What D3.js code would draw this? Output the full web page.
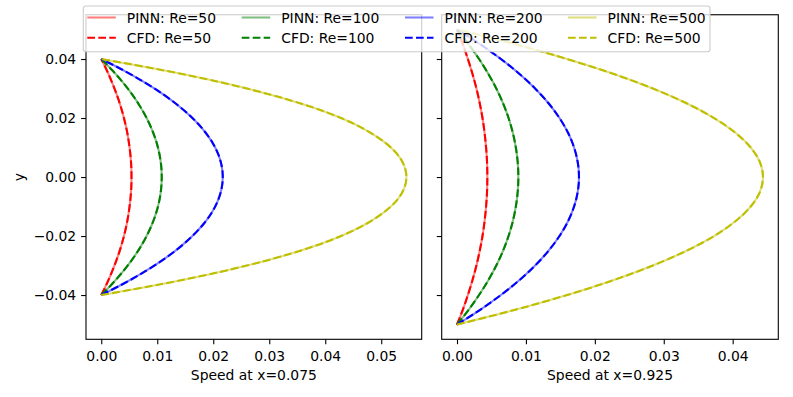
<!DOCTYPE html>
<html>
<head>
<meta charset="utf-8">
<script src="https://cdn.jsdelivr.net/npm/d3@7"></script>
<style>
	body { margin: 0; background: #fff; }
	text { font-family: "DejaVu Sans", sans-serif; }
</style>
</head>
<body>
<div id="dataviz-container"></div>
<script>
// channel height coordinates (same sampling for every profile)
var yLeft = [-0.04, -0.036, -0.032, -0.028, -0.024, -0.02, -0.016, -0.012, -0.008, -0.004, 0,
	0.004, 0.008, 0.012, 0.016, 0.02, 0.024, 0.028, 0.032, 0.036, 0.04];
var yRight = [-0.05, -0.045, -0.04, -0.035, -0.03, -0.025, -0.02, -0.015, -0.01, -0.005, 0,
	0.005, 0.01, 0.015, 0.02, 0.025, 0.03, 0.035, 0.04, 0.045, 0.05];

var reynolds = [50, 100, 200, 500];
var colors = ["#ff0000", "#008000", "#0000ff", "#bfbf00"];

// speed profiles at x=0.075
var left50 = [0, 0.00103, 0.00194, 0.00275, 0.00346, 0.00405, 0.00454, 0.00491, 0.00518, 0.00535, 0.0054,
	0.00535, 0.00518, 0.00491, 0.00454, 0.00405, 0.00346, 0.00275, 0.00194, 0.00103, 0];
var left100 = [0, 0.00205, 0.00389, 0.00551, 0.00691, 0.0081, 0.00907, 0.00983, 0.01037, 0.01069, 0.0108,
	0.01069, 0.01037, 0.00983, 0.00907, 0.0081, 0.00691, 0.00551, 0.00389, 0.00205, 0];
var left200 = [0, 0.00412, 0.00781, 0.01107, 0.01389, 0.01628, 0.01823, 0.01975, 0.02083, 0.02148, 0.0217,
	0.02148, 0.02083, 0.01975, 0.01823, 0.01628, 0.01389, 0.01107, 0.00781, 0.00412, 0];
var left500 = [0, 0.01154, 0.02157, 0.03007, 0.03716, 0.04283, 0.04719, 0.05046, 0.05275, 0.05406, 0.0545,
	0.05406, 0.05275, 0.05046, 0.04719, 0.04283, 0.03716, 0.03007, 0.02157, 0.01154, 0];

// speed profiles at x=0.925
var right50 = [0, 0.00084, 0.00158, 0.00224, 0.00282, 0.0033, 0.0037, 0.004, 0.00422, 0.00436, 0.0044,
	0.00436, 0.00422, 0.004, 0.0037, 0.0033, 0.00282, 0.00224, 0.00158, 0.00084, 0];
var right100 = [0, 0.00169, 0.0032, 0.00454, 0.0057, 0.00668, 0.00748, 0.0081, 0.00854, 0.00881, 0.0089,
	0.00881, 0.00854, 0.0081, 0.00748, 0.00668, 0.0057, 0.00454, 0.0032, 0.00169, 0];
var right200 = [0, 0.00336, 0.00637, 0.00903, 0.01133, 0.01328, 0.01487, 0.01611, 0.01699, 0.01752, 0.0177,
	0.01752, 0.01699, 0.01611, 0.01487, 0.01328, 0.01133, 0.00903, 0.00637, 0.00336, 0];
var right500 = [0, 0.00844, 0.01598, 0.02264, 0.02842, 0.0333, 0.0373, 0.0404, 0.04262, 0.04396, 0.0444,
	0.04396, 0.04262, 0.0404, 0.0373, 0.0333, 0.02842, 0.02264, 0.01598, 0.00844, 0];

var yTicks = [-0.04, -0.02, 0, 0.02, 0.04];
var leftXTicks = [0, 0.01, 0.02, 0.03, 0.04, 0.05];
var rightXTicks = [0, 0.01, 0.02, 0.03, 0.04];

var width = 793,
	height = 397,
	fontSize = 13.9,
	plotTop = 14.75,
	plotBottom = 339.3;

var panels = [
	{ x0: 86, x1: 421.7, ys: yLeft, series: [left50, left100, left200, left500], ticks: leftXTicks, label: "Speed at x=0.075", ylabels: true },
	{ x0: 441.7, x1: 778.3, ys: yRight, series: [right50, right100, right200, right500], ticks: rightXTicks, label: "Speed at x=0.925", ylabels: false }
];

var svg = d3.select("#dataviz-container")
	.append("svg")
	.attr("width", width)
	.attr("height", height)
	.style("font-size", fontSize + "px");

// shared y scale
var yScale = d3.scaleLinear()
	.domain([-0.055, 0.055])
	.range([plotBottom, plotTop]);

panels.forEach(function(p) {
	var maxU = d3.max(p.series, function(s) { return d3.max(s); });
	var xScale = d3.scaleLinear()
		.domain([-0.05 * maxU, 1.05 * maxU])
		.range([p.x0, p.x1]);

	var g = svg.append("g");

	var line = d3.line()
		.x(function(d) { return xScale(d[0]) })
		.y(function(d) { return yScale(d[1]) })
		.curve(d3.curveMonotoneY);

	p.series.forEach(function(s, i) {
		var pts = s.map(function(u, j) { return [u, p.ys[j]]; });
		// PINN (solid, translucent)
		g.append("path")
			.attr("d", line(pts))
			.attr("fill", "none")
			.attr("stroke", colors[i])
			.attr("stroke-opacity", 0.5)
			.attr("stroke-width", 2.08);
		// CFD (dashed)
		g.append("path")
			.attr("d", line(pts))
			.attr("fill", "none")
			.attr("stroke", colors[i])
			.attr("stroke-width", 2.08)
			.attr("stroke-dasharray", "7.7,3.3");
	});

	var xAxis = d3.axisBottom(xScale)
		.tickValues(p.ticks)
		.tickFormat(d3.format(".2f"))
		.tickSizeInner(4.9)
		.tickSizeOuter(0)
		.tickPadding(6.6);

	var yAxis = d3.axisLeft(yScale)
		.tickValues(yTicks)
		.tickFormat(p.ylabels ? d3.format(".2f") : "")
		.tickSizeInner(4.9)
		.tickSizeOuter(0)
		.tickPadding(4.9);

	var xg = g.append("g")
		.attr("transform", "translate(0," + plotBottom + ")")
		.call(xAxis);
	var yg = g.append("g")
		.attr("transform", "translate(" + p.x0 + ",0)")
		.call(yAxis);

	[xg, yg].forEach(function(a) {
		a.select(".domain").remove();
		a.selectAll("line").attr("stroke", "#000").attr("stroke-width", 1.1);
		a.selectAll("text")
			.attr("fill", "#000")
			.style("font-family", "DejaVu Sans")
			.style("font-size", fontSize + "px");
	});

	// frame
	g.append("rect")
		.attr("x", p.x0)
		.attr("y", plotTop)
		.attr("width", p.x1 - p.x0)
		.attr("height", plotBottom - plotTop)
		.attr("fill", "none")
		.attr("stroke", "#000")
		.attr("stroke-width", 1.1);

	g.append("text")
		.text(p.label)
		.attr("x", (p.x0 + p.x1) / 2)
		.attr("y", 379.5)
		.style("text-anchor", "middle");
});

svg.append("text")
	.text("y")
	.attr("transform", "translate(24," + yScale(0) + ") rotate(-90)")
	.style("text-anchor", "middle");

// legend
var legend = svg.append("g");
legend.append("rect")
	.attr("x", 83.3)
	.attr("y", 6)
	.attr("width", 710 - 83.3)
	.attr("height", 51.7 - 6)
	.attr("rx", 2.8)
	.attr("fill", "#fff")
	.attr("fill-opacity", 0.8)
	.attr("stroke", "#cccccc")
	.attr("stroke-width", 1.1);

var colX = [87.3, 241.7, 405, 568];
var rowY = [17.5, 37.7];

reynolds.forEach(function(re, i) {
	var x = colX[i];
	legend.append("line")
		.attr("x1", x).attr("x2", x + 28.5)
		.attr("y1", rowY[0]).attr("y2", rowY[0])
		.attr("stroke", colors[i])
		.attr("stroke-opacity", 0.5)
		.attr("stroke-width", 2.08);
	legend.append("text")
		.text("PINN: Re=" + re)
		.attr("x", x + 39.5)
		.attr("y", rowY[0] + 5.1);
	legend.append("line")
		.attr("x1", x).attr("x2", x + 28.5)
		.attr("y1", rowY[1]).attr("y2", rowY[1])
		.attr("stroke", colors[i])
		.attr("stroke-width", 2.08)
		.attr("stroke-dasharray", "7.7,3.3");
	legend.append("text")
		.text("CFD: Re=" + re)
		.attr("x", x + 39.5)
		.attr("y", rowY[1] + 5.1);
});
</script>
</body>
</html>
